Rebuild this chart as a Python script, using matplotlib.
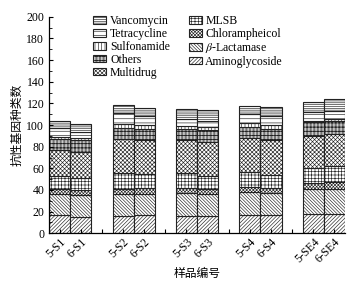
import matplotlib
matplotlib.use("Agg")
import matplotlib.pyplot as plt
import numpy as np

samples = ["5-S1", "6-S1", "5-S2", "6-S2", "5-S3", "6-S3", "5-S4", "6-S4", "5-SE4", "6-SE4"]
aminoglycoside = [17, 15.5, 16, 16.5, 16, 16, 17, 17, 18, 18]
beta_lactamase = [19.5, 20, 20.5, 20, 21, 20, 21, 20, 23, 23]
chlorampheicol = [4, 4.5, 4.5, 5.5, 4.5, 5, 5, 5, 5, 6]
mlsb = [12.5, 11, 14.5, 13, 14.5, 12, 14, 12, 14, 15]
multidrug = [24, 24.5, 31.5, 31, 30, 31.5, 31, 32, 30, 30]
others = [10.5, 10.5, 10, 10, 10, 10.5, 10, 10, 13, 12]
sulfonamide = [1.5, 2, 4, 4, 3, 3, 4, 4, 1, 2]
tetracycline = [8, 6, 10, 8, 7, 6, 8, 8, 8, 7]
vancomycin = [7, 7, 7.5, 8, 9, 10, 8, 9, 9, 11]

series = [
    ("Aminoglycoside", aminoglycoside, "/" * 9),
    (r"$\beta$-Lactamase", beta_lactamase, "\\" * 10),
    ("Chlorampheicol", chlorampheicol, "x" * 10),
    ("MLSB", mlsb, "+" * 5),
    ("Multidrug", multidrug, "x" * 8),
    ("Others", others, "|" * 12 + "-" * 4),
    ("Sulfonamide", sulfonamide, "|" * 5),
    ("Tetracycline", tetracycline, "-" * 4),
    ("Vancomycin", vancomycin, "-" * 9),
]

plt.rcParams['font.family'] = ['Liberation Serif', 'Noto Sans CJK SC']
plt.rcParams['hatch.linewidth'] = 0.45
plt.rcParams['mathtext.fontset'] = 'stix'

fig = plt.figure(figsize=(3.56, 2.84), dpi=100)
ax = fig.add_axes([0.138, 0.1785, 0.831, 0.7625])

x = []
for g in range(5):
    x += [g * 3 + 0.5, g * 3 + 1.5]
x = np.array(x)

bottom = np.zeros(len(samples))
handles = []
for name, vals, hatch in series:
    b = ax.bar(x, vals, width=1.0, bottom=bottom, color="white", edgecolor="#222222",
               linewidth=0.8, hatch=hatch, label=name)
    handles.append(b)
    bottom += np.array(vals)

ax.set_xlim(0, 14)
ax.set_ylim(0, 200)
ax.set_yticks(np.arange(0, 201, 20))
ax.set_yticks(np.arange(0, 201, 10), minor=True)
ax.set_xticks(list(x) + [2.5, 5.5, 8.5, 11.5])
ax.set_xticklabels(samples + ["", "", "", ""], rotation=45, ha="right", rotation_mode="anchor", fontsize=8.5)
ax.tick_params(axis="both", direction="in", length=3, width=0.8, labelsize=8.5)
ax.tick_params(axis="y", which="minor", direction="in", length=2, width=0.6)
ax.tick_params(axis="x", pad=2)
ax.spines["top"].set_visible(False)
ax.spines["right"].set_visible(False)
for s in ax.spines.values():
    s.set_linewidth(0.9)

ax.set_ylabel("抗性基因种类数", family=['Noto Sans CJK SC'], fontsize=8.5, labelpad=2)
ax.set_xlabel("样品编号", family=['Noto Sans CJK SC'], fontsize=8.5, labelpad=1)

order = handles[::-1]
leg = ax.legend(order, [h.get_label() for h in order], ncol=2, frameon=False, fontsize=8.5,
                loc="upper left", bbox_to_anchor=(0.13, 1.035), handlelength=1.1, handleheight=0.6,
                handletextpad=0.3, columnspacing=1.6, labelspacing=0.08, borderpad=0.0)

fig.savefig("out.png", dpi=100)
